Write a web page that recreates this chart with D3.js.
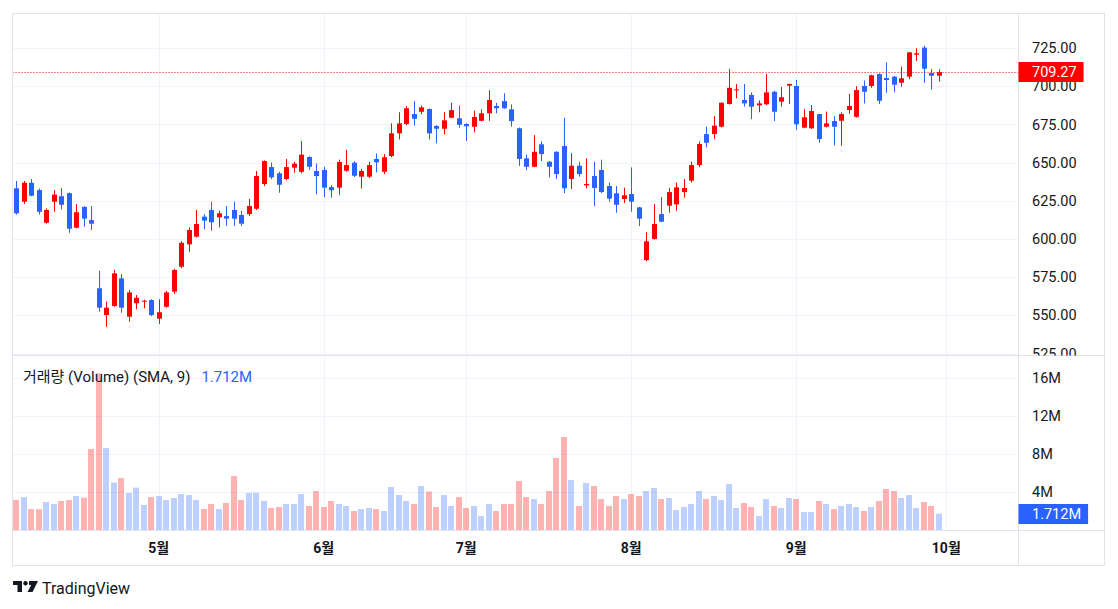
<!DOCTYPE html>
<html><head><meta charset="utf-8">
<script src="https://cdn.jsdelivr.net/npm/d3@7"></script>
<style>
body{margin:0;background:#fff;}
svg{display:block;font-family:Roboto,"Noto Sans CJK KR",sans-serif;}
</style></head><body>
<svg id="c" width="1118" height="609"></svg>
<script>
// ---- DATA (NFLX daily) ----
const dates = [
"2024-04-04","2024-04-05","2024-04-08","2024-04-09","2024-04-10","2024-04-11","2024-04-12","2024-04-15","2024-04-16","2024-04-17","2024-04-18","2024-04-19","2024-04-22","2024-04-23","2024-04-24","2024-04-25","2024-04-26","2024-04-29","2024-04-30",
"2024-05-01","2024-05-02","2024-05-03","2024-05-06","2024-05-07","2024-05-08","2024-05-09","2024-05-10","2024-05-13","2024-05-14","2024-05-15","2024-05-16","2024-05-17","2024-05-20","2024-05-21","2024-05-22","2024-05-23","2024-05-24","2024-05-28","2024-05-29","2024-05-30","2024-05-31",
"2024-06-03","2024-06-04","2024-06-05","2024-06-06","2024-06-07","2024-06-10","2024-06-11","2024-06-12","2024-06-13","2024-06-14","2024-06-17","2024-06-18","2024-06-20","2024-06-21","2024-06-24","2024-06-25","2024-06-26","2024-06-27","2024-06-28",
"2024-07-01","2024-07-02","2024-07-03","2024-07-05","2024-07-08","2024-07-09","2024-07-10","2024-07-11","2024-07-12","2024-07-15","2024-07-16","2024-07-17","2024-07-18","2024-07-19","2024-07-22","2024-07-23","2024-07-24","2024-07-25","2024-07-26","2024-07-29","2024-07-30","2024-07-31",
"2024-08-01","2024-08-02","2024-08-05","2024-08-06","2024-08-07","2024-08-08","2024-08-09","2024-08-12","2024-08-13","2024-08-14","2024-08-15","2024-08-16","2024-08-19","2024-08-20","2024-08-21","2024-08-22","2024-08-23","2024-08-26","2024-08-27","2024-08-28","2024-08-29","2024-08-30",
"2024-09-03","2024-09-04","2024-09-05","2024-09-06","2024-09-09","2024-09-10","2024-09-11","2024-09-12","2024-09-13","2024-09-16","2024-09-17","2024-09-18","2024-09-19","2024-09-20","2024-09-23","2024-09-24","2024-09-25","2024-09-26","2024-09-27","2024-09-30"];
const open = [633.2,624.4,636.8,632,610.6,624.4,628,630,607.4,621,612.4,567.7,550.2,556.1,574.2,549.1,557.9,559,560,
547.8,555.6,565.5,581.8,596.5,601.5,614.6,619,614.2,615,619,615.7,616.3,619.8,636,647.1,643,639.3,646.7,644,653.7,644.5,
645.2,634,633.6,644.7,650,640.8,640.8,652.4,644,654.3,669.2,675.3,681.8,683.3,685.1,674,672.2,679.4,679,
675.3,673.5,677.4,682.3,687.1,690.3,684.9,672.5,652.8,647.3,662,650.6,657.1,660.9,639.3,648,635.1,641.2,645.2,634.7,629.9,626.2,
629.4,620.7,586.2,600,616.3,621.8,622.7,630.7,638.2,648.4,668.7,668.7,673.5,688.4,697.5,691,694.3,687.5,688.2,696.4,689.9,700.4,
700.2,672.9,672.5,681.8,673.5,677.2,677.4,684.5,680,700.2,700.2,708,705.4,706.3,702.3,706.3,720.7,725.3,708.7,706.9];
const high = [638,638,639.3,633,620,632,633.4,630.5,622.9,621.5,621.6,579.2,558.9,579.7,577,566.6,563.3,560.2,560.5,
560.5,566,580.5,598.5,607.6,619,616.3,624.4,618.5,621.6,624.4,618.5,626.2,644.5,651.5,650,644,652.4,650.6,664.1,654.2,649.5,
647.3,635.3,652,658.3,651,646,650.6,656,655.6,675.7,683,687,690.3,687.4,685.5,674.5,683,689.2,687.4,
675.8,684,684.8,697.5,689.2,695.4,688.1,673,655.2,668,664,651,657.5,679.4,656.1,650.6,652.8,650.6,651.9,637,634.7,633.6,
646.9,621,604.4,622.9,627.5,633.4,637,639.3,650.6,663.7,673.5,680.5,689.5,711.3,701.5,701.5,696,690.7,708,697,699.5,701.8,
704.1,684.9,687.7,682,683.4,680.5,683,695,700,703.8,707.6,708.5,715.7,706.8,712.8,722.5,724.9,726.6,711.3,711];
const low = [616,623,628,616,610,617.8,619.4,604,607,608,605.9,552.4,542.5,555.5,551.7,545.8,554,554.6,549.5,
544.3,555,564,580.8,591.6,601,606.3,605.4,607.6,608.5,608.5,608.5,615,619,634.7,639.1,630.3,638.5,643.4,643,645.2,629.2,
627.3,627,629,644,640.5,633,640,643.6,642.5,653.5,665.2,674.5,674.2,681.8,665.2,662.6,668.6,679,672.8,
664.2,669.8,677,677.4,682.3,685.2,673.5,647.8,645,647,651,640.4,639.3,630,632.7,640.8,633.2,621.6,630,624.4,617.2,623.6,
617.8,608.5,585.5,599.5,611,617.2,618.5,627,637,647,660,665.5,673,688,692.1,686.7,678.5,683,687.5,677.2,686.7,688.4,
671.4,672.5,672,663,673,661.3,661,682,679.5,688.7,699,688.4,695.8,696,699.7,704.7,716.5,702.3,697.8,703];
const close = [616.8,636.8,628.3,617.8,619,629,622.4,606.7,617.5,613.3,610,555,555,577.5,555,565,561.5,559.6,550.2,
552,565,579.7,597.5,605.9,609.8,612,610.9,616.8,613.3,613.3,610,621.6,641.2,651,640.4,635.5,647.1,649.3,655.2,647.3,641.2,
633.6,631.9,650.4,648.4,641.4,644.5,648.4,650.2,653.5,669.2,675.7,685.6,678.7,686.2,669.2,672.2,677.7,684.4,674.8,
673.8,679.9,682.3,691,685.6,685.6,677.2,652.4,647.3,657.1,655.6,647.3,642.5,633.2,648,642.5,636,633.4,630.7,626.4,622.4,628.6,
624.4,613.3,598.5,609.8,611.3,630.7,633.8,633.4,648.4,662.2,663,674.2,689.2,699,698,688.8,686.6,688.8,696,683.3,692.8,701.5,
675.1,679.7,683.8,665.5,675.7,673.5,681.8,687.1,697.5,696.4,707.2,690.5,704.1,701,705.2,722.2,721.6,711.5,706.9,709.27];
// volume in millions
const volume = [3.16,3.47,2.2,2.2,2.95,2.74,3.05,3.16,3.58,3.4,8.53,16.5,8.63,5.0,5.47,3.9,4.46,2.63,3.47,
3.58,3.16,3.37,3.79,3.68,3.16,2.21,2.74,2.21,2.84,5.68,3.16,3.9,3.93,3.05,2.32,2.42,2.74,2.74,3.79,2.53,4.1,
2.42,3.05,2.74,2.53,2.0,2.21,2.32,2.21,2.0,4.53,3.68,3.05,2.74,4.63,4.04,2.42,3.68,2.53,3.47,
2.32,2.53,1.47,2.74,2.0,2.74,2.74,5.16,3.47,3.26,2.74,4.1,7.58,9.79,5.26,2.53,4.95,4.63,3.26,2.53,3.58,3.26,
3.79,3.58,4.1,4.42,3.26,3.37,2.1,2.42,2.74,4.1,3.26,3.58,3.16,4.84,2.32,2.84,2.42,1.47,3.26,2.53,2.32,3.37,
3.26,1.89,1.89,3.05,2.74,2.21,2.53,2.74,2.42,2.0,2.42,3.05,4.32,4.1,3.37,3.68,2.32,2.95,2.53,1.712];
const priceTicks = [525,550,575,600,625,650,675,700,725];
const volumeTicks = [4,8,12,16];
const monthLabels = ["5월","6월","7월","8월","9월","10월"];
const monthStarts = ["2024-05-01","2024-06-03","2024-07-01","2024-08-01","2024-09-03","2024-10-01"];
const legendName = "거래량 (Volume) (SMA, 9)";
const legendValue = "1.712M";

// ---- STYLE / LAYOUT ----
const UP = "#ff0000", DOWN = "#2962ff";
const GRID = "#f0f3fa", FRAME = "#e0e3eb", TXT = "#131722";
const L = 12.5, R = 1104.5, T = 13.5, B = 565.5, AX = 1018.5, SEP = 355.5, TAX = 530.5;
const AXFS = 14.5;

const svg = d3.select("#c");
const x = d3.scaleLinear().domain([0, dates.length]).range([16.3, 16.3 + 7.5 * dates.length]);
const y = d3.scaleLinear().domain([525, 725]).range([353.5, 48.1]);
const yv = d3.scaleLinear().domain([0, 16]).range([530, 378]);
const idxOf = d => { const k = dates.indexOf(d); return k < 0 ? dates.length : k; };
const fmt = d3.format(".2f");

const defs = svg.append("defs");
defs.append("clipPath").attr("id","pp").append("rect").attr("x",L).attr("y",T).attr("width",AX-L).attr("height",SEP-T);
defs.append("clipPath").attr("id","vp").append("rect").attr("x",L).attr("y",SEP).attr("width",AX-L).attr("height",TAX-SEP);
defs.append("clipPath").attr("id","pa").append("rect").attr("x",AX).attr("y",T).attr("width",R-AX).attr("height",SEP-T);

// grid
const g = svg.append("g");
g.selectAll(".hg").data(priceTicks).join("line")
  .attr("x1",L).attr("x2",AX).attr("y1",d=>Math.round(y(d))+0.5).attr("y2",d=>Math.round(y(d))+0.5)
  .attr("stroke",GRID).attr("clip-path","url(#pp)");
g.selectAll(".vg").data(volumeTicks).join("line")
  .attr("x1",L).attr("x2",AX).attr("y1",d=>Math.round(yv(d))+0.5).attr("y2",d=>Math.round(yv(d))+0.5)
  .attr("stroke",GRID);
g.selectAll(".mg").data(monthStarts).join("line")
  .attr("x1",d=>Math.round(x(idxOf(d)))+0.5).attr("x2",d=>Math.round(x(idxOf(d)))+0.5)
  .attr("y1",T).attr("y2",TAX).attr("stroke",GRID);

// volume bars
const data = dates.map((d,i)=>({d,i,o:open[i],h:high[i],l:low[i],c:close[i],v:volume[i]}));
svg.append("g").attr("clip-path","url(#vp)").selectAll("rect").data(data).join("rect")
  .attr("x",d=>Math.round(x(d.i)-3)).attr("width",6)
  .attr("y",d=>yv(d.v)).attr("height",d=>yv(0)-yv(d.v))
  .attr("fill",d=>d.c>=d.o?DOWN:UP).attr("fill-opacity",0.3);

// candles
const cg = svg.append("g").attr("clip-path","url(#pp)");
cg.selectAll("line").data(data).join("line")
  .attr("x1",d=>Math.round(x(d.i))+0.5).attr("x2",d=>Math.round(x(d.i))+0.5)
  .attr("y1",d=>y(d.h)).attr("y2",d=>y(d.l))
  .attr("stroke",d=>d.c>=d.o?UP:DOWN).attr("stroke-width",1);
cg.selectAll("rect").data(data).join("rect")
  .attr("x",d=>Math.round(x(d.i))-2).attr("width",5)
  .attr("y",d=>y(Math.max(d.o,d.c)))
  .attr("height",d=>Math.max(1,Math.abs(y(d.o)-y(d.c))))
  .attr("fill",d=>d.c>=d.o?UP:DOWN);

// last price line
const last = close[close.length-1];
svg.append("line").attr("x1",L).attr("x2",AX).attr("y1",Math.round(y(last))+0.5).attr("y2",Math.round(y(last))+0.5)
  .attr("stroke",UP).attr("stroke-dasharray","1,2");

// frame
svg.append("rect").attr("x",L).attr("y",T).attr("width",R-L).attr("height",B-T).attr("fill","none").attr("stroke",FRAME);
svg.append("line").attr("x1",AX).attr("x2",AX).attr("y1",T).attr("y2",B).attr("stroke",FRAME);
svg.append("line").attr("x1",L).attr("x2",R).attr("y1",SEP).attr("y2",SEP).attr("stroke",FRAME);
svg.append("line").attr("x1",L).attr("x2",R).attr("y1",TAX).attr("y2",TAX).attr("stroke",FRAME);

// price axis labels
svg.append("g").attr("clip-path","url(#pa)").selectAll("text").data(priceTicks).join("text")
  .attr("x",1032).attr("y",d=>y(d)).attr("dy","0.35em").attr("font-size",AXFS).attr("fill",TXT)
  .text(d=>fmt(d));
// volume axis labels
svg.append("g").selectAll("text").data(volumeTicks).join("text")
  .attr("x",1032).attr("y",d=>yv(d)).attr("dy","0.35em").attr("font-size",AXFS).attr("fill",TXT)
  .text(d=>d+"M");
// month labels
svg.append("g").selectAll("text").data(monthStarts).join("text")
  .attr("x",d=>x(idxOf(d))).attr("y",548).attr("dy","0.35em").attr("text-anchor","middle")
  .attr("font-size",14).attr("font-weight","bold").attr("fill",TXT)
  .text((d,i)=>monthLabels[i]);

// last price / last volume tags
function tag(yc, txt, col){
  const gg = svg.append("g");
  const r = gg.append("rect").attr("fill",col);
  const t = gg.append("text").attr("x",1032).attr("y",yc).attr("dy","0.35em").attr("font-size",AXFS)
    .attr("fill","#fff").text(txt);
  const w = t.node().getComputedTextLength();
  r.attr("x",AX).attr("y",Math.round(yc)-10).attr("width",1032+w+7-AX).attr("height",20);
}
tag(y(last), fmt(last), UP);
tag(yv(volume[volume.length-1]), legendValue, DOWN);

// legend
const lg = svg.append("text").attr("x",23).attr("y",377).attr("dy","0.35em").attr("font-size",15).attr("fill",TXT);
lg.append("tspan").text(legendName);
lg.append("tspan").attr("dx",11).attr("fill",DOWN).text(legendValue);

// TradingView logo
const logo = svg.append("g").attr("transform","translate(13,581)").attr("fill",TXT);
logo.append("path").attr("d","M0 0H9V11H4.5V4H0Z");
logo.append("circle").attr("cx",12.5).attr("cy",2.2).attr("r",2.2);
logo.append("path").attr("d","M16 0H25L19.5 11H14.5L18.2 4H16Z");
svg.append("text").attr("x",42).attr("y",588).attr("dy","0.35em").attr("font-size",16).attr("fill",TXT).text("TradingView");
</script>
</body></html>
